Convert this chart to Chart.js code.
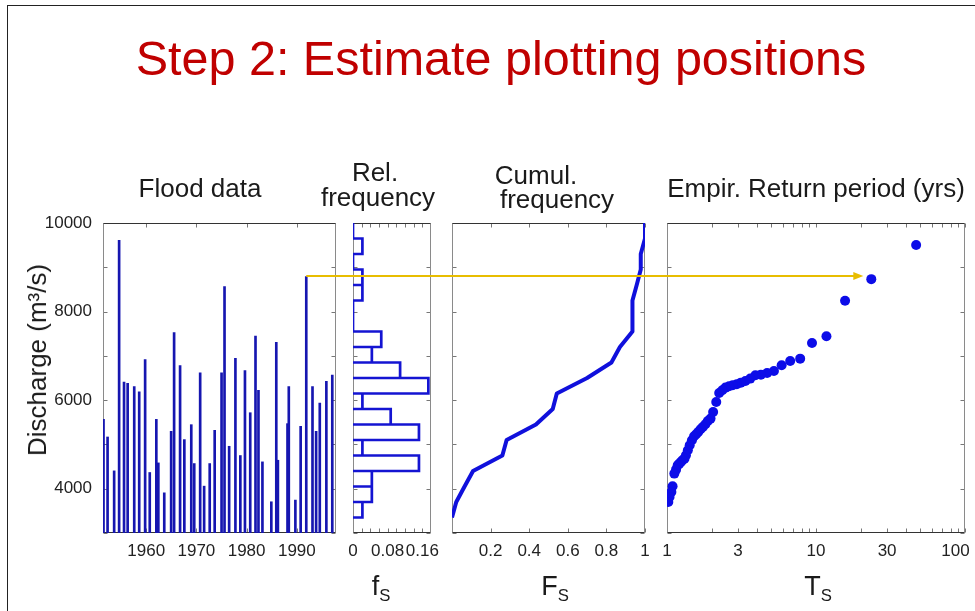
<!DOCTYPE html>
<html>
<head>
<meta charset="utf-8">
<title>Step 2: Estimate plotting positions</title>
<script src="https://cdn.jsdelivr.net/npm/chart.js@4.4.1/dist/chart.umd.min.js"></script>
<style>
  html, body { margin: 0; padding: 0; background: #fff; }
  body { width: 975px; height: 611px; position: relative; overflow: hidden;
         font-family: 'Liberation Sans', Arial, sans-serif; color: #1a1a1a; }
  .frame { position: absolute; left: 7px; top: 5px; width: 980px; height: 620px;
           border-left: 1.5px solid #222; border-top: 1.5px solid #222; }
  .panel { position: absolute; top: 212px; height: 372px; }
  .txt { position: absolute; white-space: nowrap; line-height: 1; transform: translateX(-50%); }
  .txt sub { font-size: 0.62em; vertical-align: -0.35em; }
  .ylab { position: absolute; white-space: nowrap; line-height: 1;
          transform: translate(-50%, -50%) rotate(-90deg); }
  #overlay { position: absolute; left: 0; top: 0; pointer-events: none; }
</style>
</head>
<body>
<div class="frame"></div>
<div class="panel" style="left:0;width:340px"><canvas id="flood"></canvas></div>
<div class="panel" style="left:340px;width:100px"><canvas id="hist"></canvas></div>
<div class="panel" style="left:440px;width:210px"><canvas id="cumul"></canvas></div>
<div class="panel" style="left:650px;width:325px"><canvas id="ret"></canvas></div>
<canvas id="overlay" width="975" height="611"></canvas>

<script>
// annual flood peaks (year of peak, discharge m3/s)
const floodYears = [1951.5, 1952.31, 1953.62, 1954.61, 1955.59, 1956.31, 1957.62, 1958.61, 1959.79, 1960.71,
  1962.02, 1962.42, 1963.6, 1964.97, 1965.56, 1966.75, 1967.6, 1968.98, 1969.57, 1970.75,
  1971.54, 1972.65, 1973.64, 1975.01, 1975.6, 1976.52, 1977.77, 1978.75, 1979.67, 1980.72,
  1981.77, 1982.36, 1983.15, 1984.92, 1985.91, 1986.23, 1988.14, 1988.4, 1989.71, 1990.76,
  1991.88, 1993.12, 1993.84, 1994.57, 1995.88, 1997.06];
const floodPeaks = [5566, 5168, 4403, 9610, 6406, 6380, 6309, 6190, 6917, 4366,
  5566, 4583, 3907, 5296, 7524, 6781, 5109, 5446, 4568, 6617,
  4058, 4568, 5318, 6617, 8567, 4958, 6946, 4749, 6669, 5716,
  7449, 6219, 4606, 3705, 7306, 4643, 5469, 6309, 3743, 5409,
  8792, 6309, 5296, 5933, 6422, 6564];

// histogram bins (lower edge .. upper edge) and relative frequency
const binEdges = [3350, 3700, 4050, 4400, 4750, 5100, 5450, 5800, 6150, 6500,
  6850, 7200, 7550, 7900, 8250, 8600, 8950, 9300, 9650, 10000];
const relFreq = [0.0217, 0.0435, 0.0435, 0.1522, 0.0217, 0.1522, 0.087, 0.0217, 0.1739, 0.1087,
  0.0435, 0.0652, 0, 0, 0.0217, 0.0217, 0, 0.0217, 0];

// cumulative frequency at each bin edge
const cumFreq = [0, 0.022, 0.065, 0.109, 0.261, 0.283, 0.435, 0.522, 0.543, 0.70,
  0.826, 0.870, 0.935, 0.935, 0.935, 0.957, 0.978, 0.978, 1, 1];

// empirical return period (yrs) of ranked peaks
const returnPeriods = [47, 23.5, 15.67, 11.75, 9.4, 7.83, 6.71, 5.88, 5.22, 4.7,
  4.27, 3.92, 3.62, 3.36, 3.13, 2.94, 2.76, 2.61, 2.47, 2.35,
  2.24, 2.14, 2.04, 1.96, 1.88, 1.81, 1.74, 1.68, 1.62, 1.57,
  1.52, 1.47, 1.42, 1.38, 1.34, 1.31, 1.27, 1.24, 1.21, 1.18,
  1.15, 1.12, 1.09, 1.07, 1.04, 1.02];
const rankedPeaks = [9505, 8732, 8245, 7442, 7291, 6937, 6885, 6787, 6659, 6614,
  6576, 6561, 6486, 6433, 6395, 6358, 6335, 6313, 6283, 6222,
  6162, 5959, 5733, 5583, 5530, 5455, 5395, 5342, 5281, 5229,
  5184, 5093, 4980, 4867, 4755, 4679, 4641, 4604, 4566, 4529,
  4431, 4341, 4054, 3927, 3813, 3701];

// ticks
const dischargeTicks = [3000, 4000, 5000, 6000, 7000, 8000, 9000, 10000];
const dischargeLabels = [4000, 6000, 8000, 10000];
const yearTicks = [1960, 1970, 1980, 1990];
const freqTicks = [0, 0.02, 0.04, 0.06, 0.08, 0.1, 0.12, 0.14, 0.16];
const freqLabels = [0, 0.08, 0.16];
const cumTicks = [0, 0.2, 0.4, 0.6, 0.8, 1];
const cumLabels = [0.2, 0.4, 0.6, 0.8, 1];
const periodTicks = [1, 2, 3, 4, 5, 6, 7, 8, 9, 10, 20, 30, 40, 50, 60, 70, 80, 90, 100];
const periodLabels = [1, 3, 10, 30, 100];

const arrowFrom = 40;   // flood peak that is followed across
const arrowTo = 1;      // its rank in the return period plot

Chart.defaults.font.family = "'Liberation Sans', Arial, sans-serif";
Chart.defaults.font.size = 17;
Chart.defaults.color = '#222';
Chart.defaults.animation = false;
Chart.defaults.plugins.legend.display = false;
Chart.defaults.plugins.tooltip.enabled = false;
Chart.defaults.maintainAspectRatio = false;

// matlab style box with inward ticks
const axesBox = {
  id: 'axesBox',
  beforeDatasetsDraw(chart) {
    const { ctx, chartArea: a, scales: { x, y } } = chart;
    const l = Math.round(a.left) + 0.5, r = Math.round(a.right) - 0.5;
    const t = Math.round(a.top) + 0.5, b = Math.round(a.bottom) - 0.5;
    ctx.save();
    ctx.lineWidth = 1;
    ctx.strokeStyle = '#777';
    ctx.beginPath();
    x.ticks.forEach(tk => {
      const px = Math.round(x.getPixelForValue(tk.value)) + 0.5;
      ctx.moveTo(px, b); ctx.lineTo(px, b - 4);
      ctx.moveTo(px, t); ctx.lineTo(px, t + 4);
    });
    y.ticks.forEach(tk => {
      const py = Math.round(y.getPixelForValue(tk.value)) + 0.5;
      ctx.moveTo(l, py); ctx.lineTo(l + 4, py);
      ctx.moveTo(r, py); ctx.lineTo(r - 4, py);
    });
    ctx.stroke();
    ctx.strokeStyle = '#8a8a8a';
    ctx.beginPath();
    ctx.moveTo(l, t); ctx.lineTo(l, b);
    ctx.moveTo(r, t); ctx.lineTo(r, b);
    ctx.stroke();
    ctx.strokeStyle = '#333';
    ctx.beginPath();
    ctx.moveTo(l, t); ctx.lineTo(r, t);
    ctx.moveTo(l, b); ctx.lineTo(r, b);
    ctx.stroke();
    ctx.restore();
  }
};

function dischargeAxis(width, showLabels) {
  return {
    type: 'linear', min: 3000, max: 10000,
    grid: { display: false, drawTicks: false }, border: { display: false },
    afterBuildTicks: s => { s.ticks = dischargeTicks.map(v => ({ value: v })); },
    ticks: { padding: 11, callback: v => (showLabels && dischargeLabels.includes(v)) ? String(v) : '' },
    afterFit: s => { s.width = width; s.paddingTop = 0; s.paddingBottom = 0; }
  };
}

function bottomAxis(type, min, max, tickValues, labelValues, fmt) {
  return {
    type: type, min: min, max: max, position: 'bottom', offset: false,
    grid: { display: false, drawTicks: false, offset: false }, border: { display: false },
    afterBuildTicks: s => { s.ticks = tickValues.map(v => ({ value: v })); },
    ticks: { padding: 8, maxRotation: 0, autoSkip: false,
             callback: v => labelValues.includes(v) ? (fmt ? fmt(v) : String(v)) : '' },
    afterFit: s => { s.height = 51; s.paddingLeft = 0; s.paddingRight = 0; }
  };
}

const floodChart = new Chart(document.getElementById('flood'), {
  type: 'bar',
  data: {
    datasets: [{
      data: floodYears.map((yr, i) => ({ x: yr, y: floodPeaks[i] })),
      backgroundColor: '#1616b0',
      barThickness: 2,
      grouped: false
    }]
  },
  options: {
    layout: { padding: { top: 11, right: 4, bottom: 0, left: 0 } },
    scales: {
      x: bottomAxis('linear', 1951.4, 1997.8, yearTicks, yearTicks),
      y: dischargeAxis(103, true)
    }
  },
  plugins: [axesBox]
});

// step outline of the relative frequency histogram
const histOutline = [];
relFreq.forEach((f, i) => {
  histOutline.push({ x: 0, y: binEdges[i] }, { x: f, y: binEdges[i] },
                   { x: f, y: binEdges[i + 1] }, { x: 0, y: binEdges[i + 1] });
});

const histChart = new Chart(document.getElementById('hist'), {
  type: 'scatter',
  data: {
    datasets: [{
      data: histOutline, showLine: true, pointRadius: 0,
      borderColor: '#1414d2', borderWidth: 2.7, borderJoinStyle: 'miter'
    }]
  },
  options: {
    layout: { padding: { top: 11, right: 9, bottom: 0, left: 0 } },
    scales: {
      x: bottomAxis('linear', 0, 0.18, freqTicks, freqLabels),
      y: dischargeAxis(13, false)
    }
  },
  plugins: [axesBox]
});

const cumulChart = new Chart(document.getElementById('cumul'), {
  type: 'scatter',
  data: {
    datasets: [{
      data: cumFreq.map((f, i) => ({ x: f, y: binEdges[i] })),
      showLine: true, pointRadius: 0,
      borderColor: '#1010dc', borderWidth: 4, borderJoinStyle: 'round'
    }]
  },
  options: {
    layout: { padding: { top: 11, right: 5, bottom: 0, left: 0 } },
    scales: {
      x: bottomAxis('linear', 0, 1, cumTicks, cumLabels),
      y: dischargeAxis(12, false)
    }
  },
  plugins: [axesBox]
});

const retChart = new Chart(document.getElementById('ret'), {
  type: 'scatter',
  data: {
    datasets: [{
      data: returnPeriods.map((t, i) => ({ x: t, y: rankedPeaks[i] })),
      pointRadius: 5, pointBorderWidth: 0,
      pointBackgroundColor: '#0c0ce8'
    }]
  },
  options: {
    layout: { padding: { top: 11, right: 10, bottom: 0, left: 0 } },
    scales: {
      // the last label sits against the slide edge, pad it so it stays visible
      x: bottomAxis('logarithmic', 1, 100, periodTicks, periodLabels,
                    v => v === 100 ? '100\u2007\u2007' : String(v)),
      y: dischargeAxis(17, false)
    }
  },
  plugins: [axesBox]
});

// yellow arrow from a flood peak to its plotting position
(function drawArrow() {
  const ctx = document.getElementById('overlay').getContext('2d');
  const top = 212;
  const y = Math.round(floodChart.scales.y.getPixelForValue(floodPeaks[arrowFrom]) + top);
  const x0 = floodChart.scales.x.getPixelForValue(floodYears[arrowFrom]);
  const x1 = 650 + retChart.scales.x.getPixelForValue(returnPeriods[arrowTo]) - 8;
  ctx.strokeStyle = '#e8bd00';
  ctx.fillStyle = '#e8bd00';
  ctx.lineWidth = 2;
  ctx.beginPath();
  ctx.moveTo(x0, y); ctx.lineTo(x1 - 8, y);
  ctx.stroke();
  ctx.beginPath();
  ctx.moveTo(x1, y); ctx.lineTo(x1 - 10, y - 4); ctx.lineTo(x1 - 10, y + 4);
  ctx.closePath();
  ctx.fill();
})();

// slide texts
function addText(html, cx, baseline, size, color) {
  const d = document.createElement('div');
  d.className = 'txt';
  d.innerHTML = html;
  d.style.left = cx + 'px';
  d.style.top = (baseline - 0.8465 * size) + 'px';
  d.style.fontSize = size + 'px';
  if (color) d.style.color = color;
  document.body.appendChild(d);
}
addText('Step 2: Estimate plotting positions', 501, 75, 48.5, '#c00000');
addText('Flood data', 200, 197, 26);
addText('Rel.', 375, 181, 26);
addText('frequency', 378, 206, 26);
addText('Cumul.', 536, 184, 26);
addText('frequency', 557, 208, 26);
addText('Empir. Return period (yrs)', 816, 197, 26);
addText('f<sub>S</sub>', 381, 596, 27);
addText('F<sub>S</sub>', 555, 596, 27);
addText('T<sub>S</sub>', 818, 596, 27);

const yLab = document.createElement('div');
yLab.className = 'ylab';
yLab.textContent = 'Discharge (m³/s)';
yLab.style.left = '37px';
yLab.style.top = '360px';
yLab.style.fontSize = '26px';
document.body.appendChild(yLab);
</script>
</body>
</html>
